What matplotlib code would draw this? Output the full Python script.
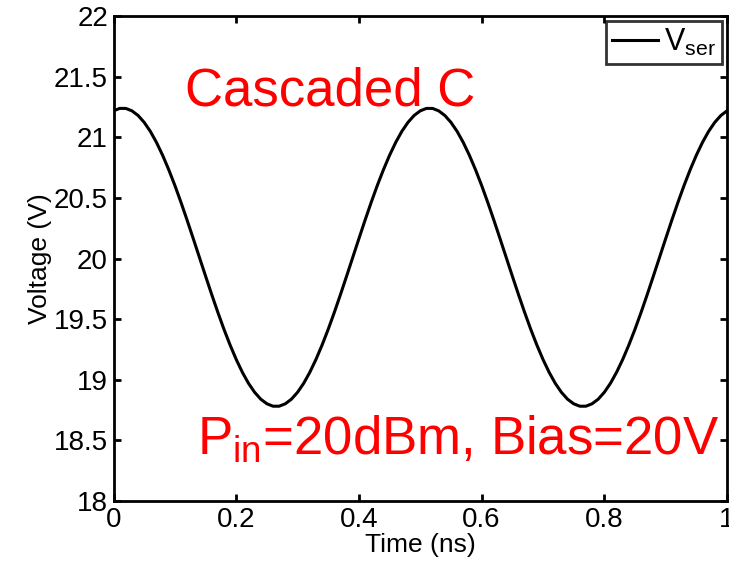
import matplotlib
matplotlib.use("Agg")
import matplotlib.pyplot as plt

plt.rcParams["font.family"] = ["Liberation Sans", "DejaVu Sans"]

# time axis (ns) and series voltage
time_ns = [0.00, 0.01, 0.02, 0.03, 0.04, 0.05, 0.06, 0.07, 0.08, 0.09,
           0.10, 0.11, 0.12, 0.13, 0.14, 0.15, 0.16, 0.17, 0.18, 0.19,
           0.20, 0.21, 0.22, 0.23, 0.24, 0.25, 0.26, 0.27, 0.28, 0.29,
           0.30, 0.31, 0.32, 0.33, 0.34, 0.35, 0.36, 0.37, 0.38, 0.39,
           0.40, 0.41, 0.42, 0.43, 0.44, 0.45, 0.46, 0.47, 0.48, 0.49,
           0.50, 0.51, 0.52, 0.53, 0.54, 0.55, 0.56, 0.57, 0.58, 0.59,
           0.60, 0.61, 0.62, 0.63, 0.64, 0.65, 0.66, 0.67, 0.68, 0.69,
           0.70, 0.71, 0.72, 0.73, 0.74, 0.75, 0.76, 0.77, 0.78, 0.79,
           0.80, 0.81, 0.82, 0.83, 0.84, 0.85, 0.86, 0.87, 0.88, 0.89,
           0.90, 0.91, 0.92, 0.93, 0.94, 0.95, 0.96, 0.97, 0.98, 0.99, 1.00]
v_ser = [21.218, 21.238, 21.238, 21.218, 21.180, 21.123, 21.049, 20.958, 20.852, 20.733,
         20.603, 20.463, 20.316, 20.164, 20.010, 19.856, 19.704, 19.557, 19.417, 19.287,
         19.168, 19.062, 18.971, 18.897, 18.840, 18.802, 18.782, 18.782, 18.802, 18.840,
         18.897, 18.971, 19.062, 19.168, 19.287, 19.417, 19.557, 19.704, 19.856, 20.010,
         20.164, 20.316, 20.463, 20.603, 20.733, 20.852, 20.958, 21.049, 21.123, 21.180,
         21.218, 21.238, 21.238, 21.218, 21.180, 21.123, 21.049, 20.958, 20.852, 20.733,
         20.603, 20.463, 20.316, 20.164, 20.010, 19.856, 19.704, 19.557, 19.417, 19.287,
         19.168, 19.062, 18.971, 18.897, 18.840, 18.802, 18.782, 18.782, 18.802, 18.840,
         18.897, 18.971, 19.062, 19.168, 19.287, 19.417, 19.557, 19.704, 19.856, 20.010,
         20.164, 20.316, 20.463, 20.603, 20.733, 20.852, 20.958, 21.049, 21.123, 21.180, 21.218]

x_ticks = [0, 0.2, 0.4, 0.6, 0.8, 1]
x_tick_labels = ["0", "0.2", "0.4", "0.6", "0.8", "1"]
y_ticks = [18, 18.5, 19, 19.5, 20, 20.5, 21, 21.5, 22]
y_tick_labels = ["18", "18.5", "19", "19.5", "20", "20.5", "21", "21.5", "22"]

fig = plt.figure(figsize=(7.29, 5.62), dpi=100)
ax = fig.add_axes([0.1557, 0.1085, 0.8416, 0.863])

ax.plot(time_ns, v_ser, color="black", lw=2.2, label=r"$\mathregular{V_{ser}}$")

ax.set_xlim(0, 1)
ax.set_ylim(18, 22)
ax.set_xticks(x_ticks)
ax.set_xticklabels(x_tick_labels)
ax.set_yticks(y_ticks)
ax.set_yticklabels(y_tick_labels)
ax.tick_params(direction="in", length=5, width=2, labelsize=20, top=True, right=True, pad=4)
for sp in ax.spines.values():
    sp.set_linewidth(2)

ax.set_xlabel("Time (ns)", fontsize=19, labelpad=0)
ax.set_ylabel("Voltage (V)", fontsize=19, labelpad=1)

leg = ax.legend(loc="upper right", fontsize=22, frameon=True, fancybox=False,
                handlelength=1.5, handletextpad=0.2, borderpad=0.2,
                borderaxespad=0.15)
leg.get_frame().set_edgecolor("black")
leg.get_frame().set_linewidth(2)

ax.text(0.1165, 0.816, "Cascaded C", color="red", fontsize=38, transform=ax.transAxes)
ax.text(0.136, 0.095, r"$\mathregular{P_{in}}$=20dBm, Bias=20V", color="red",
        fontsize=38, transform=ax.transAxes)

fig.savefig("out.png", dpi=100)
